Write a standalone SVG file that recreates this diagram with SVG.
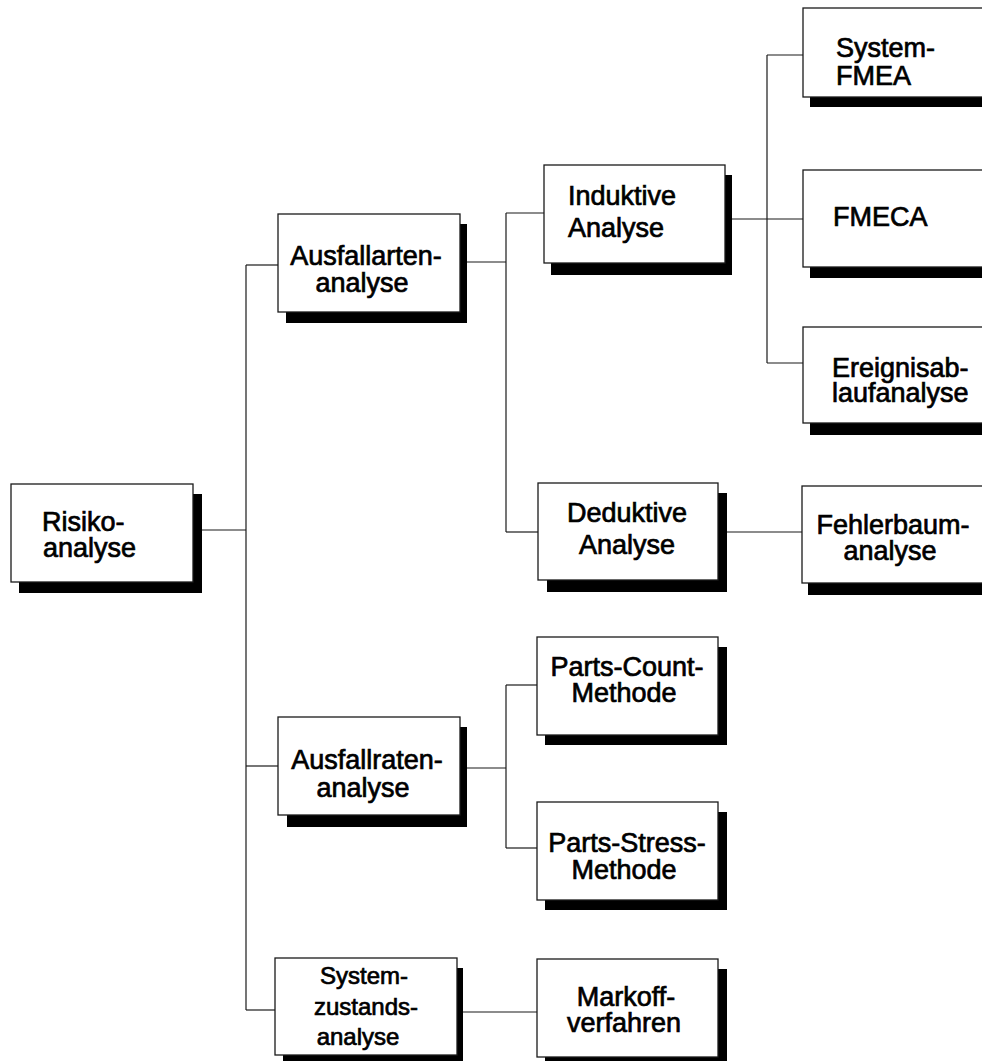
<svg xmlns="http://www.w3.org/2000/svg" width="982" height="1061" viewBox="0 0 982 1061">
  <style>
    .box { fill: #ffffff; stroke: #1a1a1a; stroke-width: 1.3; }
    .shadow { fill: #000000; }
    .lbl { font-family: "Liberation Sans", Arial, sans-serif; font-size: 27px; fill: #000000; stroke: #000000; stroke-width: 0.7; }
    .c { text-anchor: middle; }
    .sm { font-size: 24px; }
    .conn { fill: none; stroke: #1a1a1a; stroke-width: 1.2; }
  </style>
  <rect width="982" height="1061" fill="#ffffff"/>

  <!-- connectors -->
  <g id="connectors" class="conn">
    <path d="M193 530 H246"/>
    <path d="M246 265 V1010"/>
    <path d="M246 265 H278"/>
    <path d="M246 766 H278"/>
    <path d="M246 1010 H275"/>
    <path d="M460 262 H506"/>
    <path d="M506 213 V532"/>
    <path d="M506 213 H544"/>
    <path d="M506 532 H538"/>
    <path d="M725 219 H803"/>
    <path d="M767 55 V363"/>
    <path d="M767 55 H803"/>
    <path d="M767 363 H803"/>
    <path d="M718 532 H802"/>
    <path d="M460 768 H506"/>
    <path d="M506 685 V848"/>
    <path d="M506 685 H537"/>
    <path d="M506 848 H537"/>
    <path d="M457 1012 H537"/>
  </g>

  <g id="risikoanalyse">
    <rect class="shadow" x="19" y="494" width="183" height="99"/>
    <rect class="box" x="11" y="484" width="182" height="98"/>
    <text class="lbl" x="42" y="531">Risiko-</text>
    <text class="lbl" x="43" y="557">analyse</text>
  </g>

  <g id="ausfallartenanalyse">
    <rect class="shadow" x="286" y="224" width="181" height="99"/>
    <rect class="box" x="278" y="214" width="182" height="98"/>
    <text class="lbl c" x="366" y="265">Ausfallarten-</text>
    <text class="lbl c" x="362" y="292">analyse</text>
  </g>

  <g id="induktive-analyse">
    <rect class="shadow" x="551" y="175" width="181" height="100"/>
    <rect class="box" x="544" y="165" width="181" height="98"/>
    <text class="lbl" x="568" y="205">Induktive</text>
    <text class="lbl" x="568" y="237">Analyse</text>
  </g>

  <g id="system-fmea">
    <rect class="shadow" x="810" y="18" width="180" height="89"/>
    <rect class="box" x="803" y="8" width="190" height="89"/>
    <text class="lbl" x="836" y="57">System-</text>
    <text class="lbl" x="836" y="85">FMEA</text>
  </g>

  <g id="fmeca">
    <rect class="shadow" x="810" y="180" width="180" height="98"/>
    <rect class="box" x="803" y="170" width="190" height="97"/>
    <text class="lbl" x="833" y="226">FMECA</text>
  </g>

  <g id="ereignisablaufanalyse">
    <rect class="shadow" x="810" y="337" width="180" height="98"/>
    <rect class="box" x="803" y="327" width="190" height="96"/>
    <text class="lbl" x="832" y="377">Ereignisab-</text>
    <text class="lbl" x="832" y="402">laufanalyse</text>
  </g>

  <g id="deduktive-analyse">
    <rect class="shadow" x="547" y="493" width="180" height="99"/>
    <rect class="box" x="538" y="483" width="180" height="97"/>
    <text class="lbl c" x="627" y="522">Deduktive</text>
    <text class="lbl c" x="627" y="554">Analyse</text>
  </g>

  <g id="fehlerbaumanalyse">
    <rect class="shadow" x="808" y="496" width="180" height="99"/>
    <rect class="box" x="802" y="486" width="190" height="97"/>
    <text class="lbl c" x="893" y="534">Fehlerbaum-</text>
    <text class="lbl c" x="890" y="560">analyse</text>
  </g>

  <g id="parts-count-methode">
    <rect class="shadow" x="545" y="647" width="182" height="98"/>
    <rect class="box" x="537" y="637" width="181" height="98"/>
    <text class="lbl c" x="627" y="676">Parts-Count-</text>
    <text class="lbl c" x="624" y="702">Methode</text>
  </g>

  <g id="ausfallratenanalyse">
    <rect class="shadow" x="287" y="727" width="180" height="100"/>
    <rect class="box" x="278" y="717" width="182" height="98"/>
    <text class="lbl c" x="367" y="769">Ausfallraten-</text>
    <text class="lbl c" x="363" y="797">analyse</text>
  </g>

  <g id="parts-stress-methode">
    <rect class="shadow" x="545" y="812" width="182" height="98"/>
    <rect class="box" x="537" y="802" width="181" height="98"/>
    <text class="lbl c" x="627" y="852">Parts-Stress-</text>
    <text class="lbl c" x="624" y="879">Methode</text>
  </g>

  <g id="systemzustandsanalyse">
    <rect class="shadow" x="283" y="968" width="180" height="100"/>
    <rect class="box" x="275" y="958" width="182" height="97"/>
    <text class="lbl c sm" x="364" y="984">System-</text>
    <text class="lbl c sm" x="366" y="1015">zustands-</text>
    <text class="lbl c sm" x="358" y="1045">analyse</text>
  </g>

  <g id="markoffverfahren">
    <rect class="shadow" x="545" y="969" width="182" height="100"/>
    <rect class="box" x="537" y="959" width="181" height="98"/>
    <text class="lbl c" x="626" y="1006">Markoff-</text>
    <text class="lbl c" x="624" y="1032">verfahren</text>
  </g>
</svg>
